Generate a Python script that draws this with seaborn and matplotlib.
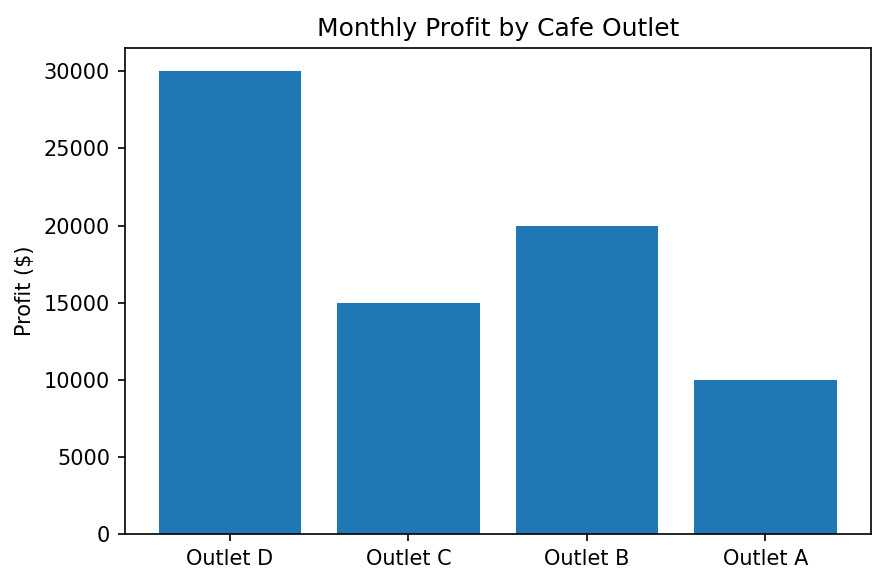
import matplotlib
matplotlib.use("Agg")
import matplotlib.pyplot as plt
import seaborn as sns
import pandas as pd

outlets = ['Outlet D', 'Outlet C', 'Outlet B', 'Outlet A']
profit = [30000, 15000, 20000, 10000]

df = pd.DataFrame({'Outlet': outlets, 'Profit': profit})

fig, ax = plt.subplots(figsize=(884 / 150, 586 / 150), dpi=150)
sns.barplot(data=df, x='Outlet', y='Profit', color='#1f77b4', saturation=1, width=0.8, ax=ax)
ax.set_xlim(-0.59, 3.59)
ax.set_xlabel('')
ax.set_ylabel('Profit ($)')
ax.set_title('Monthly Profit by Cafe Outlet')
fig.subplots_adjust(left=0.141, right=0.985, top=0.918, bottom=0.088)
fig.savefig('out.png')
